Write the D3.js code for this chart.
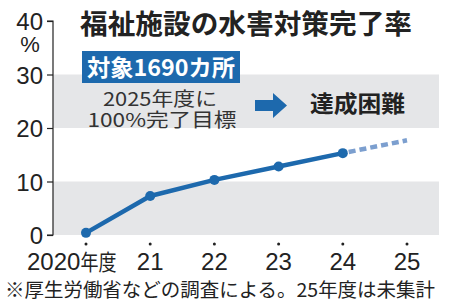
<!DOCTYPE html>
<html>
<head>
<meta charset="utf-8">
<script src="https://cdn.jsdelivr.net/npm/d3@7"></script>
<style>
  body { margin: 0; background: #fff; }
  svg { display: block; }
</style>
</head>
<body>
<svg width="450" height="307"></svg>
<script>
// chart data
const years = ["2020", "21", "22", "23", "24", "25"];
const actual = [0.4, 7.3, 10.3, 12.8, 15.3];       // 2020-2024
const projected = [15.3, 17.7];                     // 24 -> 25 (dashed)
const yTicks = [0, 10, 20, 30, 40];
const bands = [[0, 10], [20, 30]];

const title = "福祉施設の水害対策完了率";
const badge = "対象1690カ所";
const note1 = "2025年度に";
const note2 = "100%完了目標";
const verdict = "達成困難";
const footer = "※厚生労働省などの調査による。25年度は未集計";

const blue = "#1d69ad";
const numFont = "'Liberation Sans', Arial, sans-serif";
const jpFont = "'Noto Sans CJK JP', sans-serif";

let svg = d3.select("svg")

let plotLeft = 53, plotRight = 439
let x = d3.scalePoint().domain(years).range([86, 407])
let y = d3.scaleLinear().domain([0, 40]).range([235, 21])

// gray bands
svg.selectAll("rect.band")
  .data(bands)
  .enter()
  .append("rect")
  .attr("class", "band")
  .attr("x", plotLeft)
  .attr("width", plotRight - plotLeft)
  .attr("y", d => y(d[1]))
  .attr("height", d => y(d[0]) - y(d[1]))
  .attr("fill", "#e5e6e8")

// y axis
let yAxis = svg.append("g")
  .attr("transform", `translate(${plotLeft},0)`)
  .call(d3.axisLeft(y).tickValues(yTicks).tickSize(6).tickPadding(4))
yAxis.select(".domain").attr("stroke", "#222").attr("stroke-width", 1.2)
  .attr("d", `M-6,${y(40)}H0V${y(0)}H-6`)
yAxis.selectAll(".tick line").attr("stroke", "#222").attr("stroke-width", 1.2)
yAxis.selectAll(".tick text")
  .attr("font-family", numFont)
  .attr("font-size", 24)
  .attr("fill", "#222")
  .attr("dy", "0.36em")

svg.append("text")
  .attr("x", 30)
  .attr("y", 52)
  .attr("text-anchor", "middle")
  .attr("font-family", numFont)
  .attr("font-size", 22)
  .attr("fill", "#222")
  .text("%")

// x ticks: small dots + labels
svg.selectAll("circle.xtick")
  .data(years)
  .enter()
  .append("circle")
  .attr("class", "xtick")
  .attr("cx", d => x(d))
  .attr("cy", 244)
  .attr("r", 1.5)
  .attr("fill", "#222")

svg.selectAll("text.xlab")
  .data(years)
  .enter()
  .append("text")
  .attr("class", "xlab")
  .attr("x", (d, i) => i === 0 ? x(d) - 59 : x(d))
  .attr("y", 270)
  .attr("text-anchor", (d, i) => i === 0 ? "start" : "middle")
  .attr("font-family", numFont)
  .attr("font-size", 24)
  .attr("fill", "#222")
  .each(function(d, i) {
    let t = d3.select(this)
    if (i === 0) {
      t.append("tspan").text(d)
      t.append("tspan").attr("font-family", jpFont).attr("font-size", 22)
        .attr("textLength", 36).attr("lengthAdjust", "spacingAndGlyphs").text("年度")
    } else {
      t.text(d)
    }
  })

// line
let line = d3.line().x(d => x(d.year)).y(d => y(d.v))
let actualPts = actual.map((v, i) => ({year: years[i], v: v}))
let projPts = projected.map((v, i) => ({year: years[4 + i], v: v}))

svg.append("path")
  .datum(projPts)
  .attr("d", line)
  .attr("fill", "none")
  .attr("stroke", "#7c9fcf")
  .attr("stroke-width", 4.5)
  .attr("stroke-dasharray", "7,4")
  .attr("stroke-dashoffset", -6)

svg.append("path")
  .datum(actualPts)
  .attr("d", line)
  .attr("fill", "none")
  .attr("stroke", blue)
  .attr("stroke-width", 4.5)
  .attr("stroke-linejoin", "round")

svg.selectAll("circle.pt")
  .data(actualPts)
  .enter()
  .append("circle")
  .attr("class", "pt")
  .attr("cx", d => x(d.year))
  .attr("cy", d => y(d.v))
  .attr("r", 5)
  .attr("fill", blue)

// title
svg.append("text")
  .attr("x", 80)
  .attr("y", 34)
  .attr("font-family", jpFont)
  .attr("font-weight", "bold")
  .attr("font-size", 27)
  .attr("fill", "#222")
  .attr("textLength", 332)
  .attr("lengthAdjust", "spacingAndGlyphs")
  .text(title)

// badge
svg.append("rect")
  .attr("x", 82)
  .attr("y", 51)
  .attr("width", 158)
  .attr("height", 32)
  .attr("fill", blue)

svg.append("text")
  .attr("x", 161)
  .attr("y", 76)
  .attr("text-anchor", "middle")
  .attr("font-family", jpFont)
  .attr("font-weight", "bold")
  .attr("font-size", 23)
  .attr("fill", "#fff")
  .attr("textLength", 148)
  .attr("lengthAdjust", "spacingAndGlyphs")
  .text(badge)

// notes
svg.append("text")
  .attr("x", 160)
  .attr("y", 106)
  .attr("text-anchor", "middle")
  .attr("font-family", jpFont)
  .attr("font-size", 19)
  .attr("fill", "#333")
  .attr("textLength", 114)
  .attr("lengthAdjust", "spacingAndGlyphs")
  .text(note1)

svg.append("text")
  .attr("x", 162)
  .attr("y", 127)
  .attr("text-anchor", "middle")
  .attr("font-family", jpFont)
  .attr("font-size", 19)
  .attr("fill", "#333")
  .attr("textLength", 149)
  .attr("lengthAdjust", "spacingAndGlyphs")
  .text(note2)

// arrow
svg.append("path")
  .attr("d", "M255,100H273V93L287,105.5L273,118V111H255Z")
  .attr("fill", blue)

svg.append("text")
  .attr("x", 310)
  .attr("y", 112)
  .attr("font-family", jpFont)
  .attr("font-weight", "bold")
  .attr("font-size", 23)
  .attr("fill", "#222")
  .attr("textLength", 95)
  .attr("lengthAdjust", "spacingAndGlyphs")
  .text(verdict)

// footer
svg.append("text")
  .attr("x", 5)
  .attr("y", 297)
  .attr("font-family", jpFont)
  .attr("font-size", 19)
  .attr("fill", "#222")
  .attr("textLength", 430)
  .attr("lengthAdjust", "spacingAndGlyphs")
  .text(footer)
</script>
</body>
</html>
